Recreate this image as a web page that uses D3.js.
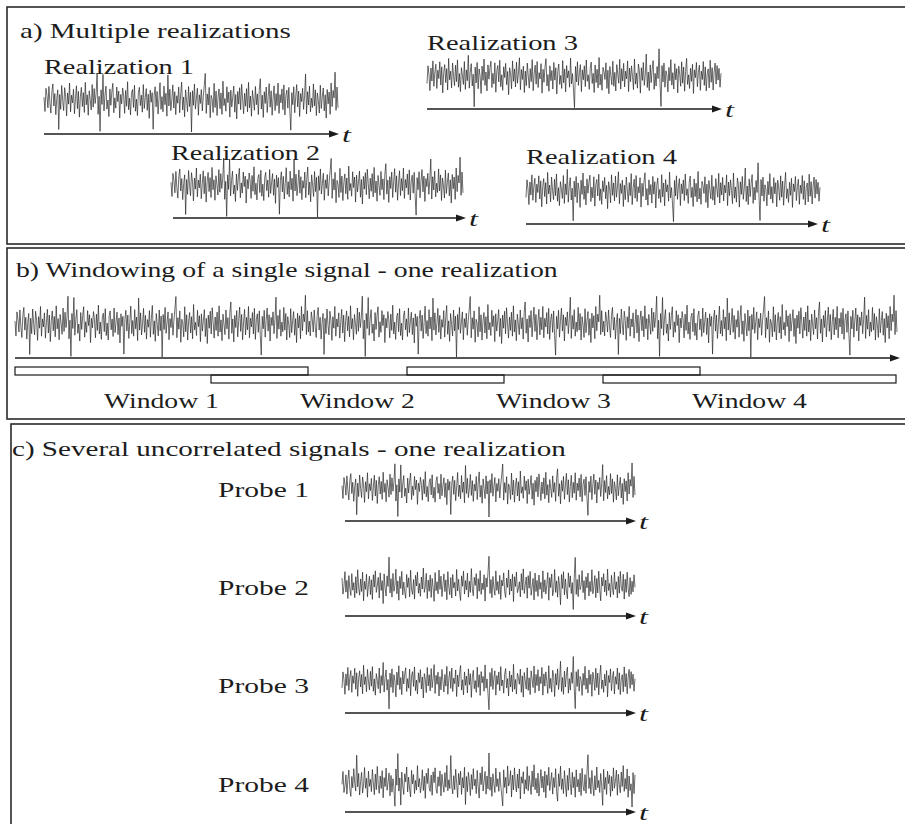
<!DOCTYPE html>
<html>
<head>
<meta charset="utf-8">
<script src="https://cdn.jsdelivr.net/npm/d3@7"></script>
<style>
  body { margin: 0; background: #fff; }
  svg { display: block; }
</style>
</head>
<body>
<svg id="chart" width="905" height="824"></svg>
<script>
// Two sampled noise records (normalised amplitude, -1..1)
const signalA = [
  0.12,-0.34,0.41,0.18,-0.22,0.47,-0.05,-0.39,0.30,0.55,
  -0.16,0.24,-0.44,0.08,0.36,-0.92,0.21,-0.27,0.50,0.02,
  -0.31,0.43,0.15,-0.48,0.26,-0.10,0.58,-0.35,0.19,-0.06,
  0.38,-0.41,0.07,0.49,-0.25,0.31,-0.52,0.14,0.44,-0.18,
  0.27,-0.37,0.60,-0.12,0.20,-0.46,0.33,0.05,-0.29,0.53,
  -0.20,0.40,-0.08,0.24,0.90,-0.43,0.15,-0.98,0.36,-0.11,
  0.86,-0.32,0.18,0.48,-0.26,0.03,-0.50,0.39,-0.14,0.29,
  0.57,-0.38,0.10,-0.23,0.45,-0.02,0.32,-0.55,0.21,-0.09,
  0.42,0.16,-0.40,0.34,-0.17,0.62,-0.28,0.09,-0.45,0.25,
  0.37,-0.21,0.51,-0.33,0.06,-0.47,0.28,0.44,-0.15,0.19,
  -0.36,0.53,-0.24,0.11,0.40,-0.30,0.22,-0.56,0.35,-0.04,
  0.27,-0.91,0.18,0.46,-0.19,0.31,-0.42,0.08,0.59,-0.27,
  0.14,-0.35,0.48,-0.12,0.25,-0.49,0.84,-0.16,0.38,-0.31,
  0.04,0.52,-0.23,0.30,-0.44,0.17,-0.07,0.45,-0.38,0.22,
  0.61,-0.29,0.13,-0.51,0.36,0.02,-0.34,0.47,-0.18,0.28,
  -1.00,0.33,-0.14,0.55,-0.26,0.09,0.41,-0.46,0.20,-0.08,
  0.37,-0.32,0.15,0.50,0.89,-0.40,0.23,-0.13,0.44,-0.54,
  0.18,0.06,-0.37,0.57,-0.21,0.32,-0.47,0.12,0.39,-0.25,
  0.26,-0.43,0.64,-0.15,0.08,-0.33,0.46,-0.05,0.29,-0.52,
  0.35,-0.19,0.13,0.48,-0.36,0.21,-0.58,0.31,-0.10,0.43,
  -0.28,0.54,0.07,-0.41,0.25,-0.17,0.40,-0.35,0.60,-0.22,
  0.16,-0.49,0.34,0.03,-0.30,0.47,-0.12,0.23,-0.44,0.38,
  0.72,-0.26,0.19,-0.53,0.30,-0.08,0.45,-0.37,0.14,0.56,
  -0.20,0.33,-0.46,0.10,0.49,-0.31,0.24,-0.15,0.58,-0.40,
  0.21,-0.06,0.39,-0.28,0.52,-0.45,0.17,0.35,-0.23,0.44,
  -0.33,-0.94,0.27,-0.12,0.46,-0.38,0.15,0.53,-0.19,0.32,
  -0.50,0.24,-0.02,0.41,-0.27,0.18,0.87,-0.42,0.30,-0.13,
  0.48,-0.35,0.09,-0.21,0.55,-0.16,0.36,-0.47,0.26,0.01,
  -0.39,0.51,-0.24,0.13,0.42,-0.32,0.20,-0.55,0.37,-0.09,
  0.29,-0.43,0.58,-0.18,0.34,0.10,0.93,-0.30,0.45,-0.22
];
const signalB = [
  -0.21,0.36,0.08,-0.44,0.29,-0.13,0.52,-0.30,0.17,0.41,
  -0.37,0.22,-0.05,0.49,-0.26,0.33,-0.51,0.14,0.40,-0.18,
  0.27,-0.42,0.60,-0.09,0.19,-0.35,0.45,0.02,-0.28,0.38,
  -0.15,0.55,-0.33,0.11,-0.47,0.30,0.06,-0.24,0.50,-0.40,
  0.23,-0.12,0.70,-0.36,0.15,0.43,-0.29,0.09,-0.96,0.32,
  -0.19,0.47,-0.38,0.26,0.04,-0.53,0.35,-0.11,0.58,-0.27,
  0.16,-0.45,0.39,-0.07,0.28,0.51,-0.34,0.12,-0.22,0.46,
  -0.49,0.21,0.37,-0.16,0.54,-0.31,0.07,-0.43,0.33,-0.02,
  0.44,-0.25,0.18,-0.57,0.30,0.10,-0.38,0.52,-0.14,0.26,
  -0.32,0.48,-0.20,0.13,0.62,-0.41,0.24,-0.08,0.35,-0.50,
  0.19,-0.28,0.45,0.03,-0.36,0.27,-0.15,0.56,-0.44,0.11,
  0.38,-0.23,0.50,-0.34,0.14,-0.06,0.43,-0.52,0.25,-0.17,
  0.32,0.59,-0.29,0.08,-0.46,0.36,-0.12,0.21,-0.39,0.47,
  -0.10,0.30,-0.55,0.18,0.42,-0.24,0.05,-0.37,0.53,-0.19,
  0.26,-0.48,0.37,-0.03,0.20,-0.33,0.61,-0.22,0.11,-0.42,
  -0.99,0.34,-0.16,0.49,-0.27,0.14,0.40,-0.47,0.23,-0.09,
  0.36,-0.31,0.55,-0.14,0.07,-0.40,0.28,0.48,-0.21,0.12,
  -0.50,0.39,-0.18,0.25,-0.35,0.63,-0.26,0.09,-0.43,0.31,
  0.17,-0.08,0.46,-0.37,0.22,-0.54,0.34,0.04,-0.25,0.51,
  -0.30,0.15,-0.45,0.40,0.10,-0.20,0.57,-0.39,0.27,-0.13,
  0.44,-0.32,0.19,-0.06,0.52,-0.47,0.29,-0.15,0.36,0.02,
  -0.41,0.58,-0.23,0.13,-0.36,0.42,0.21,-0.52,0.30,-0.11,
  0.47,-0.27,0.08,0.74,-0.34,0.16,-0.44,0.39,-0.18,0.25,
  0.53,-0.40,0.12,-0.29,0.34,-0.05,0.91,-0.22,-0.95,0.37,
  -0.16,0.45,-0.33,0.20,0.06,-0.48,0.31,-0.12,0.56,-0.26,
  0.14,-0.39,0.43,-0.09,0.27,-0.51,0.35,0.10,-0.30,0.49,
  -0.20,0.32,-0.46,0.18,0.60,-0.24,0.07,-0.37,0.28,-0.14,
  0.41,-0.53,0.23,-0.02,0.47,-0.31,0.15,0.38,-0.43,0.19,
  -0.08,0.50,-0.27,0.33,-0.45,0.11,0.26,-0.35,0.54,-0.17,
  0.30,-0.42,0.16,0.45,-0.23,0.37,-0.10,0.28,-0.33,0.12
];

const panelTitles = [
  "a) Multiple realizations",
  "b) Windowing of a single signal - one realization",
  "c) Several uncorrelated signals - one realization"
];
const realizationLabels = ["Realization 1", "Realization 2", "Realization 3", "Realization 4"];
const realizationSeries = ["A", "A", "B", "B"];
const windowLabels = ["Window 1", "Window 2", "Window 3", "Window 4"];
const singleSignalRepeats = 3;          // the long record is three consecutive blocks
const probeLabels = ["Probe 1", "Probe 2", "Probe 3", "Probe 4"];
const probeSeries = ["A", "B", "B", "A"];
const probePolarity = [1, -1, 1, -1];
const timeLabel = "t";

const seriesById = { A: signalA, B: signalB };

// ---------- helpers ----------
const INK = "#1c1c1c";
const svg = d3.select("#chart");

// Serif label; when a target width is given the glyphs are stretched horizontally to fill it
function label(x, y, str, width, size, italic) {
  const g = svg.append("g").attr("transform", `translate(${x},${y})`);
  const t = g.append("text")
    .style("font-family", "Liberation Serif")
    .style("font-size", size + "px")
    .style("font-style", italic ? "italic" : "normal")
    .style("fill", INK)
    .text(str);
  if (width) {
    const natural = t.node().getComputedTextLength();
    if (natural > 0) t.attr("transform", `scale(${width / natural},1)`);
  }
  return t;
}

function drawSignal(values, x0, x1, cy, amp, polarity, repeats) {
  repeats = repeats || 1;
  const seq = [];
  for (let k = 0; k < repeats; k++) values.forEach(v => seq.push(v));
  const x = d3.scaleLinear().domain([0, seq.length - 1]).range([x0, x1]);
  const y = d3.scaleLinear().domain([-1, 1])
    .range(polarity > 0 ? [cy + amp, cy - amp] : [cy - amp, cy + amp]);
  svg.append("path")
    .datum(seq)
    .attr("fill", "none")
    .attr("stroke", "#1e1e1e")
    .attr("stroke-width", 0.65)
    .attr("d", d3.line().x((d, i) => x(i)).y(d => y(d)));
}

function drawArrow(x0, x1, y, withT) {
  const head = 10;
  svg.append("line")
    .attr("x1", x0).attr("x2", x1 - head + 1)
    .attr("y1", y).attr("y2", y)
    .attr("stroke", INK).attr("stroke-width", 1.4);
  svg.append("path")
    .attr("d", d3.line()([[x1 - head, y - 3.5], [x1, y], [x1 - head, y + 3.5]]) + "Z")
    .attr("fill", INK);
  if (withT) label(x1 + 3, y + 8, timeLabel, 9, 22, true);
}

function frame(x, y, w, h) {
  svg.append("rect")
    .attr("x", x).attr("y", y).attr("width", w).attr("height", h)
    .attr("fill", "none").attr("stroke", "#2a2a2a").attr("stroke-width", 1.6);
}

// ---------- panel frames ----------
frame(7, 7, 920, 237);
frame(7, 248, 920, 171);
frame(11, 424, 920, 420);

// ---------- a) multiple realizations ----------
label(20, 38, panelTitles[0], 271, 21);
const realLayout = [
  { lx: 44,  lb: 74,  lw: 150, sx0: 44,  sx1: 338, cy: 101, ax0: 44,  ax1: 339, ay: 134 },
  { lx: 171, lb: 160, lw: 149, sx0: 171, sx1: 463, cy: 186, ax0: 173, ax1: 466, ay: 218 },
  { lx: 427, lb: 50,  lw: 151, sx0: 427, sx1: 721, cy: 77,  ax0: 427, ax1: 722, ay: 109 },
  { lx: 526, lb: 164, lw: 151, sx0: 526, sx1: 820, cy: 191, ax0: 526, ax1: 818, ay: 224 }
];
realizationLabels.forEach((name, i) => {
  const L = realLayout[i];
  drawSignal(seriesById[realizationSeries[i]], L.sx0, L.sx1, L.cy, 31, 1);
  label(L.lx, L.lb, name, L.lw, 20);
  drawArrow(L.ax0, L.ax1, L.ay, true);
});

// ---------- b) windowing of a single signal ----------
label(16, 277, panelTitles[1], 542, 21);
drawSignal(signalA, 15, 897, 325, 32, 1, singleSignalRepeats);
drawArrow(15, 900, 358, false);

const win = d3.scaleLinear().domain([0, windowLabels.length]).range([15, 15 + 196 * windowLabels.length]);
const winWidth = 293;
windowLabels.forEach((name, i) => {
  const x0 = win(i);
  const top = i % 2 === 0 ? 367 : 375;
  svg.append("rect")
    .attr("x", x0).attr("y", top).attr("width", winWidth).attr("height", 8)
    .attr("fill", "none").attr("stroke", INK).attr("stroke-width", 1.2);
  label(x0 + winWidth / 2 - 57.5, 408, name, 115, 20);
});

// ---------- c) several uncorrelated signals ----------
label(12, 456, panelTitles[2], 554, 21);
const probeLayout = [
  { lb: 497, cy: 489, ay: 521 },
  { lb: 595, cy: 584, ay: 616 },
  { lb: 693, cy: 682, ay: 713 },
  { lb: 792, cy: 781, ay: 812 }
];
probeLabels.forEach((name, i) => {
  const L = probeLayout[i];
  label(218, L.lb, name, 91, 20);
  drawSignal(seriesById[probeSeries[i]], 342, 635, L.cy, 28, probePolarity[i]);
  drawArrow(345, 636, L.ay, true);
});
</script>
</body>
</html>
